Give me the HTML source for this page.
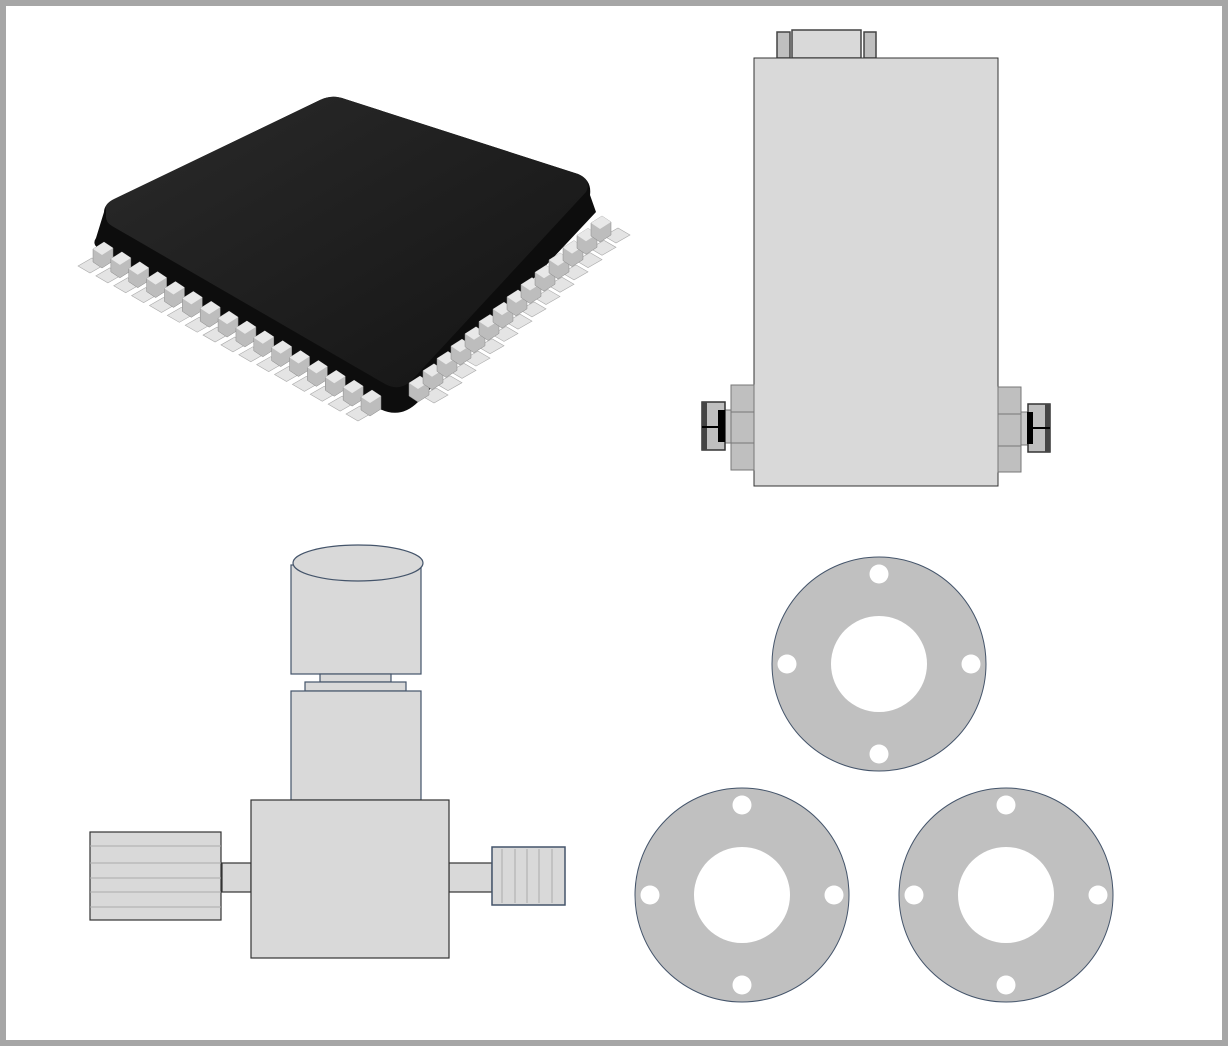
<!DOCTYPE html>
<html><head><style>
html,body{margin:0;padding:0;background:#fff;}
svg{display:block;}
</style></head><body>
<svg id="s" width="1228" height="1046" viewBox="0 0 1228 1046" xmlns="http://www.w3.org/2000/svg">
<rect x="3" y="3" width="1222" height="1040" fill="#fff" stroke="#a6a6a6" stroke-width="6"/>
<defs>
<linearGradient id="cg" x1="0" y1="0" x2="1" y2="1">
<stop offset="0" stop-color="#2a2a2a"/><stop offset="1" stop-color="#141414"/></linearGradient>
</defs>
<g id="pins"></g>
<!-- chip body -->
<path d="M104,212 Q104,204 115,199 L320,100 Q332,94 345,99 L578,174 Q592,180 590,195 L596,212 L418,402 Q400,420 378,408 L98,248 Q92,244 96,238 Z" fill="#0d0d0d"/>
<path d="M106,210 Q104,204 114,199 L320,100 Q332,94 345,99 L578,174 Q592,180 586,192 L412,380 Q400,392 385,384 L112,226 Q105,222 106,214 Z" fill="url(#cg)"/>
<g id="pins2"></g>

<!-- mass flow -->
<g stroke="#444" stroke-width="1.5">
<rect x="777" y="32" width="13" height="26" fill="#bfbfbf"/>
<rect x="864" y="32" width="12" height="26" fill="#bfbfbf"/>
<rect x="792" y="30" width="69" height="28" fill="#d9d9d9"/>
</g>
<rect x="754" y="58" width="244" height="428" fill="#d9d9d9" stroke="#333" stroke-width="1"/>
<g stroke="#777" stroke-width="1">
<rect x="731" y="385" width="23" height="85" fill="#bfbfbf"/>
<line x1="731" y1="412" x2="754" y2="412"/><line x1="731" y1="443" x2="754" y2="443"/>
<rect x="724" y="410" width="7" height="33" fill="#c8c8c8"/>
<rect x="998" y="387" width="23" height="85" fill="#bfbfbf"/>
<line x1="998" y1="414" x2="1021" y2="414"/><line x1="998" y1="446" x2="1021" y2="446"/>
<rect x="1021" y="412" width="7" height="33" fill="#c8c8c8"/>
</g>
<rect x="702" y="402" width="23" height="48" fill="#bfbfbf" stroke="#333" stroke-width="1.5"/>
<rect x="702" y="402" width="5" height="48" fill="#444"/>
<rect x="718" y="410" width="7" height="32" fill="#000"/>
<line x1="702" y1="427" x2="725" y2="427" stroke="#000" stroke-width="2"/>
<rect x="1028" y="404" width="22" height="48" fill="#bfbfbf" stroke="#333" stroke-width="1.5"/>
<rect x="1045" y="404" width="5" height="48" fill="#444"/>
<rect x="1027" y="412" width="6" height="32" fill="#000"/>
<line x1="1028" y1="428" x2="1050" y2="428" stroke="#000" stroke-width="2"/>

<!-- valve -->
<g fill="#d9d9d9" stroke="#44546a" stroke-width="1.2">
<rect x="291" y="565" width="130" height="109"/>
<ellipse cx="358" cy="563" rx="65" ry="18"/>
<rect x="320" y="674" width="71" height="8"/>
<rect x="305" y="682" width="101" height="9"/>
<rect x="291" y="691" width="130" height="109"/>
</g>
<g fill="#d9d9d9" stroke="#333" stroke-width="1.2">
<rect x="222" y="863" width="29" height="29"/>
<rect x="449" y="863" width="43" height="29"/>
<rect x="251" y="800" width="198" height="158"/>
<rect x="90" y="832" width="131" height="88"/>
</g>
<g stroke="#aaa" stroke-width="1">
<line x1="90" y1="846" x2="221" y2="846"/><line x1="90" y1="863" x2="221" y2="863"/>
<line x1="90" y1="878" x2="221" y2="878"/><line x1="90" y1="892" x2="221" y2="892"/>
<line x1="90" y1="907" x2="221" y2="907"/>
</g>
<rect x="492" y="847" width="73" height="58" fill="#d9d9d9" stroke="#44546a" stroke-width="1.5"/>
<g stroke="#aaa" stroke-width="1">
<line x1="502" y1="849" x2="502" y2="903"/><line x1="515" y1="849" x2="515" y2="903"/>
<line x1="527" y1="849" x2="527" y2="903"/><line x1="539" y1="849" x2="539" y2="903"/>
<line x1="552" y1="849" x2="552" y2="903"/>
</g>

<!-- flanges -->
<g id="fl"></g>
</svg>
<script>
var NS="http://www.w3.org/2000/svg";
function el(p,t,a){var e=document.createElementNS(NS,t);for(var k in a)e.setAttribute(k,a[k]);p.appendChild(e);return e;}
var fl=document.getElementById('fl');
[[879,664],[742,895],[1006,895]].forEach(function(c){
 el(fl,'circle',{cx:c[0],cy:c[1],r:107,fill:'#c0c0c0',stroke:'#44546a','stroke-width':1});
 el(fl,'circle',{cx:c[0],cy:c[1],r:48,fill:'#fff'});
 [[0,-90],[0,90],[-92,0],[92,0]].forEach(function(d){el(fl,'circle',{cx:c[0]+d[0],cy:c[1]+d[1],r:9.5,fill:'#fff'});});
});
var pb=document.getElementById('pins'),pf=document.getElementById('pins2');
function pin(x,y,ox,oy){
 el(pb,'polygon',{points:(x+ox-10)+','+(y+oy)+' '+(x+ox+4)+','+(y+oy-8)+' '+(x+ox+16)+','+(y+oy-1)+' '+(x+ox+2)+','+(y+oy+7),fill:'#e4e4e4',stroke:'#aaa','stroke-width':0.6});
 el(pf,'polygon',{points:(x-9)+','+(y-3)+' '+(x+2)+','+(y-10)+' '+(x+11)+','+(y-4)+' '+(x+11)+','+(y+9)+' '+(x)+','+(y+16)+' '+(x-9)+','+(y+10),fill:'#bdbdbd',stroke:'#888','stroke-width':0.5});
 el(pf,'polygon',{points:(x-9)+','+(y-3)+' '+(x+2)+','+(y-10)+' '+(x+11)+','+(y-4)+' '+(x)+','+(y+3),fill:'#e8e8e8'});
}
var n=16;for(var i=0;i<n;i++){var t=i/(n-1);pin(102+t*(268),252+t*(148),-14,14);}
n=14;for(var i=0;i<n;i++){var t=i/(n-1);pin(418+t*(182),386-t*(160),14,10);}
</script>
</body></html>
